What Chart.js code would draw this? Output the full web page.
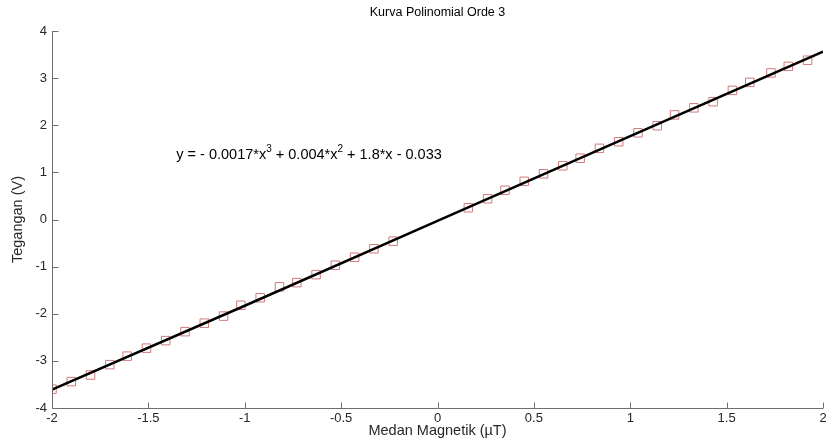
<!DOCTYPE html>
<html lang="id">
<head>
  <meta charset="UTF-8">
  <title>Kurva Polinomial Orde 3</title>
  <script src="https://cdn.jsdelivr.net/npm/chart.js"></script>
  <style>
    body {
      margin: 0;
      background: #ffffff;
      overflow: hidden;
    }
    #wrap {
      width: 830px;
      height: 446px;
    }
  </style>
</head>
<body>
<div id="wrap"><canvas id="grafik"></canvas></div>

<script>
  // data pengukuran
  const medanX = [-2, -1.9, -1.8, -1.7, -1.61, -1.51, -1.41, -1.31, -1.21, -1.11, -1.02, -0.92, -0.82, -0.73, -0.63, -0.53, -0.43, -0.33, -0.23,
    0.16, 0.26, 0.35, 0.45, 0.55, 0.65, 0.74, 0.84, 0.94, 1.04, 1.14, 1.23, 1.33, 1.43, 1.53, 1.62, 1.73, 1.82, 1.92];
  const teganganY = [-3.60, -3.44, -3.30, -3.08, -2.90, -2.73, -2.57, -2.38, -2.20, -2.05, -1.82, -1.66, -1.43, -1.34, -1.17, -0.97, -0.80, -0.62, -0.46,
    0.25, 0.44, 0.62, 0.81, 0.97, 1.14, 1.30, 1.51, 1.65, 1.84, 1.99, 2.22, 2.37, 2.50, 2.74, 2.91, 3.11, 3.25, 3.38];

  // garis hasil fitting
  const fitX = [-2, -1, 0, 1, 2];
  const fitY = [-3.61, -1.83, -0.03, 1.77, 3.56];

  const xTicks = [-2, -1.5, -1, -0.5, 0, 0.5, 1, 1.5, 2];
  const yTicks = [-4, -3, -2, -1, 0, 1, 2, 3, 4];

  const warnaTeks = '#262626';
  const warnaSumbu = '#6e6e6e';
  const huruf = "'Liberation Sans', Arial, sans-serif";

  // sumbu + tick ke dalam ala MATLAB + teks persamaan
  const tickDalam = {
    id: 'tickDalam',
    afterDraw(chart) {
      const { ctx, scales: { x, y } } = chart;
      ctx.save();
      ctx.strokeStyle = warnaSumbu;
      ctx.lineWidth = 1;
      ctx.beginPath();
      const kiri = Math.round(x.left) + 0.5;
      const bawah = Math.round(y.bottom) + 0.5;
      ctx.moveTo(kiri, Math.round(y.top));
      ctx.lineTo(kiri, bawah);
      ctx.lineTo(Math.round(x.right), bawah);
      xTicks.forEach(v => {
        const px = Math.round(x.getPixelForValue(v)) + 0.5;
        ctx.moveTo(px, bawah);
        ctx.lineTo(px, bawah - 6);
      });
      yTicks.forEach(v => {
        const py = Math.round(y.getPixelForValue(v)) + 0.5;
        ctx.moveTo(kiri, py);
        ctx.lineTo(kiri + 6, py);
      });
      ctx.stroke();

      // persamaan
      const bagian = [
        ['y = - 0.0017*x', false], ['3', true], [' + 0.004*x', false], ['2', true], [' + 1.8*x - 0.033', false]
      ];
      let px = x.getPixelForValue(-1.355);
      const py = y.getPixelForValue(1.28);
      ctx.fillStyle = '#000000';
      ctx.textBaseline = 'alphabetic';
      ctx.textAlign = 'left';
      bagian.forEach(([t, sup]) => {
        ctx.font = (sup ? '10px ' : '14.5px ') + huruf;
        ctx.fillText(t, px, sup ? py - 7 : py);
        px += ctx.measureText(t).width;
      });
      ctx.restore();
    }
  };

  new Chart(document.getElementById('grafik'), {
    type: 'scatter',
    data: {
      datasets: [{
        label: 'Data',
        data: medanX.map((v, i) => ({ x: v, y: teganganY[i] })),
        pointStyle: 'rect',
        pointRadius: 6,
        pointBorderWidth: 1,
        pointBorderColor: '#d07a7a',
        pointBackgroundColor: 'rgba(0,0,0,0)',
        showLine: false,
        order: 2
      }, {
        label: 'Fit',
        data: fitX.map((v, i) => ({ x: v, y: fitY[i] })),
        showLine: true,
        borderColor: '#000000',
        borderWidth: 2.5,
        pointRadius: 0,
        tension: 0,
        order: 1
      }]
    },
    options: {
      responsive: true,
      maintainAspectRatio: false,
      animation: false,
      layout: { padding: { left: 0, right: 2, top: 0, bottom: 0 } },
      plugins: {
        legend: { display: false },
        tooltip: { enabled: false },
        title: {
          display: true,
          fullSize: false,
          text: 'Kurva Polinomial Orde 3',
          color: '#000000',
          font: { family: huruf, size: 12.5, weight: 'normal' },
          padding: { top: 5, bottom: 11 }
        }
      },
      scales: {
        x: {
          type: 'linear',
          min: -2,
          max: 2,
          afterBuildTicks: s => { s.ticks = xTicks.map(v => ({ value: v })); },
          afterFit: s => { s.height = 38; },
          ticks: {
            color: warnaTeks,
            font: { family: huruf, size: 13 },
            padding: 3,
            callback: v => String(v)
          },
          grid: { display: false, drawTicks: false, tickLength: 0 },
          border: { display: false },
          title: {
            display: true,
            text: 'Medan Magnetik (µT)',
            color: warnaTeks,
            font: { family: huruf, size: 14.5 },
            padding: { top: 0, bottom: 6 }
          }
        },
        y: {
          type: 'linear',
          min: -4,
          max: 4,
          afterBuildTicks: s => { s.ticks = yTicks.map(v => ({ value: v })); },
          afterFit: s => { s.width = 52; },
          ticks: {
            color: warnaTeks,
            font: { family: huruf, size: 13 },
            padding: 5,
            callback: v => String(v)
          },
          grid: { display: false, drawTicks: false, tickLength: 0 },
          border: { display: false },
          title: {
            display: true,
            text: 'Tegangan (V)',
            color: warnaTeks,
            font: { family: huruf, size: 14.5 },
            padding: { top: 9, bottom: 0 }
          }
        }
      }
    },
    plugins: [tickDalam]
  });
</script>
</body>
</html>
